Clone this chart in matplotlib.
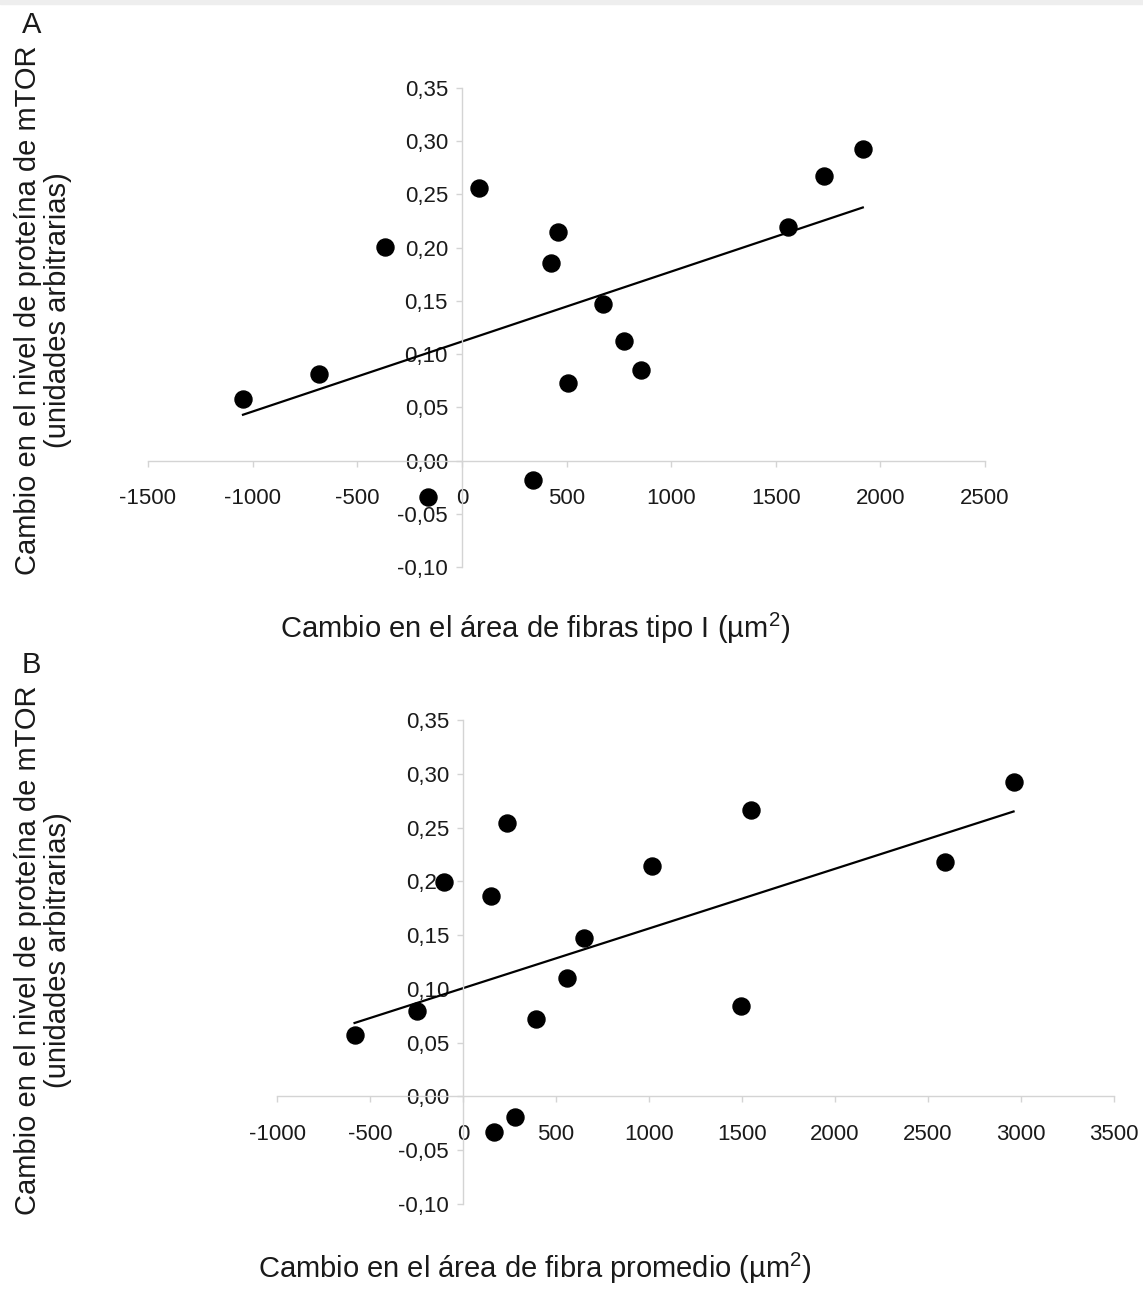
import matplotlib
matplotlib.use("Agg")
import matplotlib.pyplot as plt
from matplotlib.ticker import FuncFormatter
import numpy as np

plt.rcParams['font.family'] = ['Liberation Sans', 'DejaVu Sans']
plt.rcParams['mathtext.fontset'] = 'custom'
plt.rcParams['mathtext.rm'] = 'Liberation Sans'
plt.rcParams['mathtext.it'] = 'Liberation Sans'

# ---- data ----
# panel A: change in type I fibre area vs change in mTOR protein
area_tipo1 = [-1046, -683, -368, -162, 81, 339, 425, 459, 506, 674, 774, 855, 1558, 1730, 1916]
mtor_a = [0.058, 0.081, 0.201, -0.034, 0.256, -0.018, 0.186, 0.215, 0.073, 0.147, 0.112, 0.085, 0.219, 0.267, 0.293]

# panel B: change in mean fibre area vs change in mTOR protein
area_prom = [-583, -250, -100, 148, 234, 390, 557, 648, 1018, 1492, 1551, 2590, 2960, 169, 277]
mtor_b = [0.057, 0.079, 0.199, 0.186, 0.254, 0.072, 0.110, 0.147, 0.214, 0.084, 0.266, 0.218, 0.292, -0.033, -0.019]

yticks = [-0.10, -0.05, 0.00, 0.05, 0.10, 0.15, 0.20, 0.25, 0.30, 0.35]
xticks_a = [-1500, -1000, -500, 0, 500, 1000, 1500, 2000, 2500]
xticks_b = [-1000, -500, 0, 500, 1000, 1500, 2000, 2500, 3000, 3500]

ylabel = "Cambio en el nivel de proteína de mTOR\n(unidades arbitrarias)"
xlabel_a = r"Cambio en el área de fibras tipo I (µm$^{2}$)"
xlabel_b = r"Cambio en el área de fibra promedio (µm$^{2}$)"

W, H = 1143, 1294
fig = plt.figure(figsize=(W / 100, H / 100), dpi=100)

# thin grey band at the very top
fig.patches.append(plt.Rectangle((0, 1 - 4 / H), 1, 4 / H, transform=fig.transFigure,
                                 color='#eeeeee', zorder=0))

axis_grey = '#d4d4d4'
comma = FuncFormatter(lambda v, p: f"{v:.2f}".replace('.', ','))


def panel(rect, x, y, xticks, xlabel, letter, letter_y, xlabel_y, ylab_y):
    ax = fig.add_axes(rect)
    ax.set_xlim(xticks[0], xticks[-1])
    ax.set_ylim(-0.10, 0.35)
    ax.spines['left'].set_position(('data', 0))
    ax.spines['bottom'].set_position(('data', 0))
    ax.spines['right'].set_color('none')
    ax.spines['top'].set_color('none')
    for s in ('left', 'bottom'):
        ax.spines[s].set_color(axis_grey)
        ax.spines[s].set_linewidth(1.0)
    ax.set_xticks(xticks)
    ax.set_yticks(yticks)
    ax.yaxis.set_major_formatter(comma)
    ax.xaxis.set_major_formatter(FuncFormatter(lambda v, p: f"{v:.0f}"))
    ax.tick_params(axis='both', colors=axis_grey, labelcolor='#1a1a1a',
                   labelsize=16, length=4, width=1, direction='out')
    ax.tick_params(axis='x', pad=16)
    ax.tick_params(axis='y', pad=6)

    ax.scatter(x, y, s=150, color='black', zorder=3, clip_on=False)

    # linear trend line
    k, b = np.polyfit(x, y, 1)
    xs = np.array([min(x), max(x)])
    ax.plot(xs, k * xs + b, color='black', lw=1.6, zorder=2)

    fig.text(22 / W, 1 - letter_y / H, letter, fontsize=21, color='#1a1a1a',
             ha='left', va='center')
    fig.text(535 / W, 1 - xlabel_y / H, xlabel, fontsize=21, color='#1a1a1a',
             ha='center', va='center')
    fig.text(43 / W, 1 - ylab_y / H, ylabel, fontsize=21, color='#1a1a1a',
             rotation=90, ha='center', va='center', multialignment='center',
             linespacing=1.05)
    return ax


panel([148 / W, 1 - 567 / H, 837 / W, 479 / H], area_tipo1, mtor_a, xticks_a,
      xlabel_a, 'A', 25, 628, 310)
panel([277 / W, 1 - 1204 / H, 837 / W, 484 / H], area_prom, mtor_b, xticks_b,
      xlabel_b, 'B', 665, 1268, 950)

fig.savefig('out.png', dpi=100)
